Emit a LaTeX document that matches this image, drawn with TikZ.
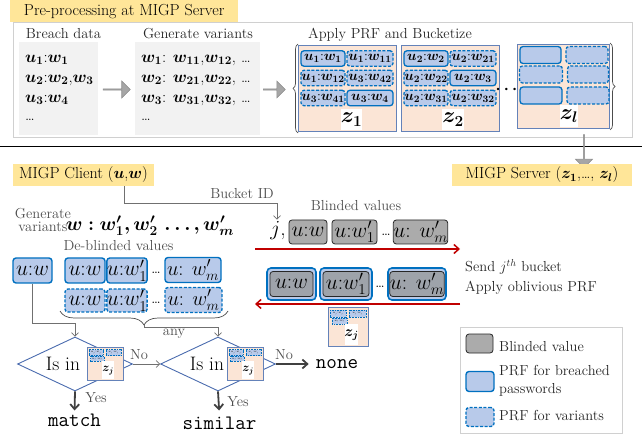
\RequirePackage{fix-cm}
\documentclass[tikz,border=0pt]{standalone}
\usepackage{amsmath}
\usepackage{bm}
\usetikzlibrary{shapes.geometric,shapes.arrows,decorations.pathreplacing,arrows.meta,calc}
\definecolor{titley}{HTML}{FFE699}
\definecolor{prfblue}{HTML}{0070C0}
\definecolor{prffill}{HTML}{B8CAEA}
\definecolor{blindgray}{HTML}{ABABAB}
\definecolor{retgray}{HTML}{9EA3AA}
\definecolor{peach}{HTML}{FBE5D6}
\definecolor{bktborder}{HTML}{6482B9}
\definecolor{diaborder}{HTML}{4A6BAE}
\definecolor{framegray}{HTML}{D0D0D0}
\definecolor{bggray}{HTML}{F2F2F2}
\definecolor{labgray}{HTML}{4D4D4D}
\definecolor{arrowfill}{HTML}{A6A6A6}
\definecolor{arrowdraw}{HTML}{8C8C8C}
\definecolor{redc}{HTML}{C00000}
\definecolor{conngray}{HTML}{707070}
\definecolor{darkarr}{HTML}{404040}
\newcommand\mytitlefont{\fontsize{16}{19}\selectfont}
\newcommand\mylabfont{\fontsize{14.5}{17}\selectfont}
\newcommand\myboxfont{\fontsize{21.5}{24}\selectfont}
\newcommand\mybktfont{\fontsize{14}{15}\selectfont}
\newcommand\mybreachfont{\fontsize{16.5}{18}\selectfont}
\newcommand\myttfont{\fontsize{20.5}{24}\selectfont\ttfamily}
\newcommand\uw[2]{$\bm{u_{#1}}$:$\bm{w_{#2}}$}
\tikzset{
  title/.style={fill=titley, inner sep=0pt, font=\mytitlefont},
  lbl/.style={font=\mylabfont, inner sep=0pt, text=black!85},
  glbl/.style={font=\mylabfont, inner sep=0pt, text=labgray},
  frame/.style={draw=framegray, line width=1pt, inner sep=0pt},
  graybg/.style={fill=bggray, inner sep=0pt},
  prf/.style={draw=prfblue, fill=prffill, line width=1.4pt, rounded corners=3pt, inner sep=0pt, font=\myboxfont},
  prfv/.style={prf, dash pattern=on 3pt off 1.6pt},
  kprf/.style={prf, font=\mybktfont, line width=1.3pt},
  kprfv/.style={prfv, font=\mybktfont, line width=1.3pt},
  blind/.style={draw=black!85, fill=blindgray, line width=0.8pt, rounded corners=3pt, inner sep=0pt, font=\myboxfont},
  retin/.style={draw=black!85, fill=retgray, line width=0.8pt, rounded corners=3pt, inner sep=0pt, font=\myboxfont},
  retout/.style={draw=prfblue, fill=prffill, line width=1.6pt, rounded corners=4pt, inner sep=0pt},
  bucket/.style={draw=bktborder, fill=peach, line width=0.8pt, inner sep=0pt},
  zlab/.style={fill=white, inner sep=0pt, font=\fontsize{22}{24}\selectfont},
  barrow/.style={single arrow, draw=arrowdraw, fill=arrowfill, line width=0.6pt, inner sep=0pt, single arrow head extend=4pt, minimum width=17pt, minimum height=#1},
  brace/.style={decorate, decoration={brace, amplitude=#1}, draw=black!70, line width=0.7pt},
  conn/.style={draw=conngray, line width=0.7pt, -{Straight Barb[length=3.5pt,width=7pt]}},
  redarr/.style={draw=redc, line width=1.5pt, -{Straight Barb[length=5pt,width=9pt]}},
  darr/.style={draw=darkarr, line width=1.8pt, -{Straight Barb[length=5pt,width=9pt]}},
  dia/.style={diamond, draw=diaborder, line width=0.9pt, inner sep=0pt, minimum width=115pt, minimum height=54pt},
  tinyb/.style={draw=prfblue, fill=prffill, line width=0.5pt, dash pattern=on 1pt off 0.6pt},
  tinyt/.style={font=\fontsize{3}{3}\selectfont, inner sep=0pt},
  zjfont/.style={font=\fontsize{15}{15}\selectfont},
  pics/minibkt/.style={code={
    \draw[bucket] (0,0) rectangle (40,39);
    \draw[tinyb] (2,3) rectangle (18,10);
    \draw[tinyb] (21,3) rectangle (38,10);
    \draw[tinyb] (4,11) rectangle (19,17);
    \node[tinyt] (-t1) at (10,6.5) {$u_j$:$w_j$};
    \node[tinyt] (-t2) at (29.5,6.5) {$u_j$:$w_j$};
    \node[tinyt] (-t3) at (11.5,14) {$u_j$:$w_j$};
    \fill[white] (17,17) rectangle (30,38);
    \node[zjfont, inner sep=0pt] (-z) at (23.5,28) {$\bm{z_j}$};
  }}
}
\begin{document}
\begin{tikzpicture}[x=1pt,y=-1pt]
\useasboundingbox (0,0) rectangle (642,435);

% ---------------- Pre-processing -----------------
\node[frame, anchor=north west, minimum width=619, minimum height=115] (preframe) at (13,22) {};
\node[title, anchor=north west, minimum width=228, minimum height=22] (pretitle) at (10,0) {Pre-processing at MIGP Server};

\node[lbl] (bdl) at (63.5,34) {Breach data};
\node[graybg, anchor=north west, minimum width=79, minimum height=93] (bdbox) at (19,42) {};
\node[font=\mybreachfont, anchor=west, inner sep=0pt] (bd1) at (25,60) {\uw{1}{1}};
\node[font=\mybreachfont, anchor=west, inner sep=0pt] (bd2) at (25,80) {\uw{2}{2},$\bm{w_3}$};
\node[font=\mybreachfont, anchor=west, inner sep=0pt] (bd3) at (25,100) {\uw{3}{4}};
\node[font=\mybreachfont, anchor=west, inner sep=0pt] (bd4) at (25,120) {\ldots};

\node[lbl] (gvl) at (198,34) {Generate variants};
\node[graybg, anchor=north west, minimum width=125, minimum height=93] (vbox) at (135,42) {};
\node[font=\mybreachfont, anchor=west, inner sep=0pt] (vb1) at (141,60) {$\bm{w_1}$: $\bm{w_{11}}$,$\bm{w_{12}}$, \ldots};
\node[font=\mybreachfont, anchor=west, inner sep=0pt] (vb2) at (141,80) {$\bm{w_2}$: $\bm{w_{21}}$,$\bm{w_{22}}$, \ldots};
\node[font=\mybreachfont, anchor=west, inner sep=0pt] (vb3) at (141,100) {$\bm{w_3}$: $\bm{w_{31}}$,$\bm{w_{32}}$, \ldots};
\node[font=\mybreachfont, anchor=west, inner sep=0pt] (vb4) at (141,120) {\ldots};

\node[barrow=27] (ba1) at (116.5,89.5) {};
\node[barrow=22] (ba2) at (274,89.5) {};

\node[lbl] (apl) at (390,35) {Apply PRF and Bucketize};
\draw[brace=5pt] (298,133) -- (298,44);
\draw[brace=5pt] (610,43) -- (610,130);

% bucket z1
\node[bucket, anchor=north west, minimum width=98, minimum height=86] (z1) at (298,45) {};
\node[kprf,  minimum width=44, minimum height=15.5] (a11) at (323,58.5) {\uw{1}{1}};
\node[kprfv, minimum width=46, minimum height=15.5] (a12) at (370,58.5) {\uw{1}{11}};
\node[kprfv, minimum width=44, minimum height=15.5] (a21) at (323,78) {\uw{1}{12}};
\node[kprfv, minimum width=46, minimum height=15.5] (a22) at (370,78) {\uw{3}{42}};
\node[kprfv, minimum width=44, minimum height=15.5] (a31) at (323,98) {\uw{3}{41}};
\node[kprf,  minimum width=46, minimum height=15.5] (a32) at (370,98) {\uw{3}{4}};
\node[zlab, minimum width=17, minimum height=21] (zl1) at (351.5,119.5) {$\bm{z_1}$};
% bucket z2
\node[bucket, anchor=north west, minimum width=98, minimum height=86] (z2) at (401,45) {};
\node[kprf,  minimum width=44, minimum height=15.5] (b11) at (426,58.5) {\uw{2}{2}};
\node[kprfv, minimum width=46, minimum height=15.5] (b12) at (473,58.5) {\uw{2}{21}};
\node[kprfv, minimum width=44, minimum height=15.5] (b21) at (426,78) {\uw{2}{22}};
\node[kprf,  minimum width=46, minimum height=15.5] (b22) at (473,78) {\uw{2}{3}};
\node[kprfv, minimum width=44, minimum height=15.5] (b31) at (426,98) {\uw{2}{31}};
\node[kprfv, minimum width=46, minimum height=15.5] (b32) at (473,98) {\uw{2}{32}};
\node[zlab, minimum width=17, minimum height=21] (zl2) at (453,119.5) {$\bm{z_2}$};
\node[font=\mytitlefont, inner sep=0pt] (bdots) at (508,90) {$\bm{\cdots}$};
% bucket zl
\node[bucket, anchor=north west, minimum width=92, minimum height=84] (zl) at (517,44) {};
\node[kprf,  minimum width=41, minimum height=17] (c11) at (540.5,55) {};
\node[kprfv, minimum width=42, minimum height=17] (c12) at (587,55) {};
\node[kprfv, minimum width=43, minimum height=17] (c21) at (541,74.5) {};
\node[kprfv, minimum width=41, minimum height=17] (c22) at (588,74.5) {};
\node[kprf,  minimum width=42, minimum height=17] (c31) at (541,95.5) {};
\node[kprfv, minimum width=42, minimum height=17] (c32) at (588,95.5) {};
\node[zlab, minimum width=16, minimum height=22] (zll) at (569,116) {$\bm{z_l}$};

\draw[line width=0.9pt] (0,146) -- (642,146);
\node[barrow=33, shape border rotate=270] (ba3) at (584,151) {};

% ---------------- Online protocol -----------------
\node[title, minimum width=180, minimum height=22] (server) at (542,175) {MIGP Server ($\bm{z_1}$,\ldots, $\bm{z_l}$)};
\node[title, minimum width=141, minimum height=22] (client) at (83.5,175) {MIGP Client ($\bm{u}$,$\bm{w}$)};

\node[font=\myboxfont, inner sep=0pt] (jj) at (278,231) {$j$,};
\draw[conn] ([xshift=-30pt]client.south east) -- ++(0,17) -| ([xshift=-1pt,yshift=2pt]jj.north);
\node[glbl] (bid) at (242,194) {Bucket ID};

\node[glbl, align=center, font=\fontsize{14.5}{13}\selectfont] (gv) at (43,220) {Generate\\variants};
\node[font=\fontsize{19.5}{22}\selectfont, inner sep=0pt] (wv) at (150,226) {$\bm{w : w'_1, w'_2\,\ldots, w'_m}$};

\node[glbl] (blv) at (356,206) {Blinded values};
\node[blind, minimum width=38, minimum height=24] (bl1) at (308,232) {$u$:$w$};
\node[blind, minimum width=45, minimum height=24] (bl2) at (354.5,232) {$u$:$w'_1$};
\node[font=\mylabfont, inner sep=0pt] (bldots) at (386,235) {\ldots};
\node[blind, minimum width=51, minimum height=24] (bl3) at (420.5,232) {$u$: $w'_m$};

\coordinate (cR1) at (255,249);
\coordinate (sR1) at (460,249);
\draw[redarr] (cR1) -- (sR1);

\node[lbl, anchor=west] (send) at (465,267) {Send $j^{th}$ bucket};
\node[lbl, anchor=west] (apply) at (465,288) {Apply oblivious PRF};

\node[retout, minimum width=49, minimum height=32] (ro1) at (291.5,284) {};
\node[retin,  minimum width=43, minimum height=25] (ri1) at (291.5,284) {$u$:$w$};
\node[retout, minimum width=52, minimum height=32] (ro2) at (346,284) {};
\node[retin,  minimum width=46, minimum height=25] (ri2) at (346,284) {$u$:$w'_1$};
\node[font=\mylabfont, inner sep=0pt] (rdots) at (380,287) {\ldots};
\node[retout, minimum width=58, minimum height=32] (ro3) at (417,284) {};
\node[retin,  minimum width=52, minimum height=25] (ri3) at (417,284) {$u$: $w'_m$};

\coordinate (sR2) at (460,304);
\coordinate (cR2) at (255,304);
\draw[redarr] (sR2) -- (cR2);

\pic (mb1) at (328,307) {minibkt};

% de-blinded
\node[glbl] (dbl) at (118.5,246) {De-blinded values};
\node[prf, minimum width=39, minimum height=25] (s0) at (32.5,270.5) {$u$:$w$};
\node[prf, minimum width=40, minimum height=25] (p1) at (85,270.5) {$u$:$w$};
\node[prf, minimum width=40, minimum height=25] (p2) at (127,270.5) {$u$:$w'_1$};
\node[font=\mylabfont, inner sep=0pt] (pd) at (156,273) {\ldots};
\node[prf, minimum width=56, minimum height=25, font=\fontsize{20.5}{22}\selectfont] (p3) at (193,270) {$u$: $w'_m$};
\node[prfv, minimum width=40, minimum height=23] (v1) at (85,300.5) {$u$:$w$};
\node[prfv, minimum width=40, minimum height=23] (v2) at (127,300.5) {$u$:$w'_1$};
\node[font=\mylabfont, inner sep=0pt] (vd) at (156,303) {\ldots};
\node[prfv, minimum width=57, minimum height=25, font=\fontsize{20.5}{22}\selectfont] (v3) at (193.5,300) {$u$: $w'_m$};
\draw[brace=14pt] (228,311) -- (60,311);
\coordinate (btip) at (144,325);

% decisions
\node[dia] (d1) at (75,364) {};
\node[dia] (d2) at (218,364) {};
\node[font=\fontsize{19.5}{22}\selectfont, inner sep=0pt] (isin1) at (63,364) {Is in};
\node[font=\fontsize{19.5}{22}\selectfont, inner sep=0pt] (isin2) at (207,364) {Is in};
\pic[xscale=0.9, yscale=0.85, zjfont/.style={font=\fontsize{12}{12}\selectfont}] (mb2) at (87,347) {minibkt};
\pic[xscale=0.9, yscale=0.85, zjfont/.style={font=\fontsize{12}{12}\selectfont}] (mb3) at (227,347) {minibkt};

\draw[conn] (s0.south) -- ++(0,40) -| (d1.north);
\draw[conn] (btip) -- ++(0,2) -| (d2.north);
\node[glbl] (any) at (174,334) {any};

\draw[conn] (d1.east) -- (d2.west);
\node[glbl] (no1) at (139,355) {No};

\node[font=\myttfont, inner sep=0pt] (none) at (337,364) {none};
\node[font=\myttfont, inner sep=0pt] (match) at (74.5,420) {match};
\node[font=\myttfont, inner sep=0pt] (similar) at (219.5,423) {similar};
\draw[darr, shorten >=7pt] (d2.east) -- (none.west);
\node[glbl] (no2) at (284,355) {No};
\draw[darr, shorten >=3pt] (d1.south) -- (match.north);
\draw[darr, shorten >=6pt] (d2.south) -- (similar.north);
\node[glbl] (yes1) at (96,398) {Yes};
\node[glbl] (yes2) at (238,402) {Yes};

% legend
\node[frame, anchor=north west, minimum width=162, minimum height=106] (legend) at (460,327) {};
\node[blind, minimum width=27, minimum height=19] (lg1) at (479.5,343.5) {};
\node[lbl, anchor=west] (lt1) at (499,347) {Blinded value};
\node[prf, minimum width=28, minimum height=20] (lg2) at (480,381.5) {};
\node[lbl, anchor=west, align=left, font=\fontsize{14.5}{18}\selectfont] (lt2) at (499,381) {PRF for breached\\passwords};
\node[prfv, minimum width=28, minimum height=19] (lg3) at (480,417) {};
\node[lbl, anchor=west] (lt3) at (499,416) {PRF for variants};
\end{tikzpicture}
\end{document}
